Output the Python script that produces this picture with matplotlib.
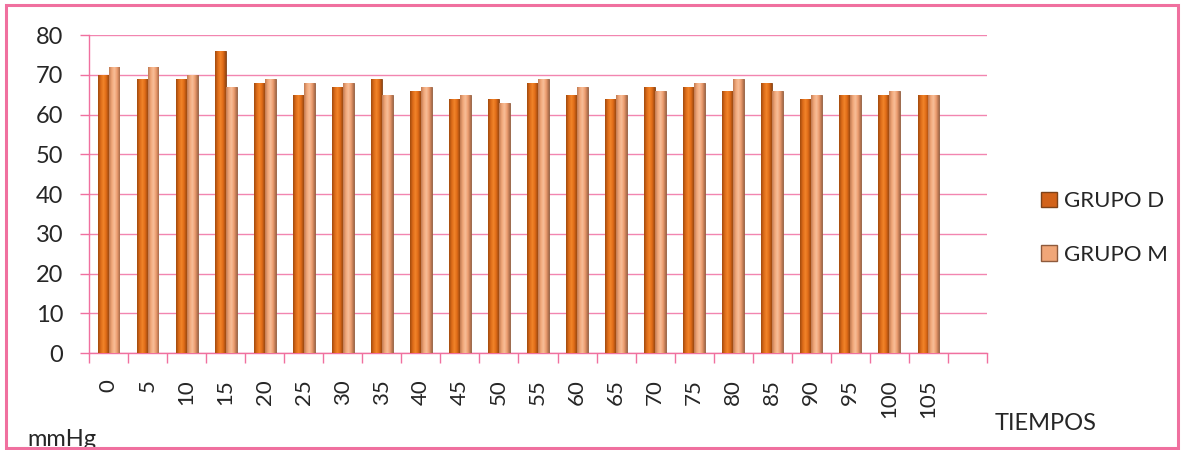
import numpy as np
import matplotlib.pyplot as plt
from matplotlib.colors import LinearSegmentedColormap
from matplotlib.patches import Rectangle, Patch

plt.rcParams['font.family'] = ['Lato', 'DejaVu Sans']

# tiempos (min) y valores por grupo
tiempos = ['0', '5', '10', '15', '20', '25', '30', '35', '40', '45', '50',
           '55', '60', '65', '70', '75', '80', '85', '90', '95', '100', '105']
grupo_d = [70, 69, 69, 76, 68, 65, 67, 69, 66, 64, 64,
           68, 65, 64, 67, 67, 66, 68, 64, 65, 65, 65]
grupo_m = [72, 72, 70, 67, 69, 68, 68, 65, 67, 65, 63,
           69, 67, 65, 66, 68, 69, 66, 65, 65, 66, 65]

rosa = '#F0709F'
rosa_grid = '#F285B0'
texto = '#262626'

# degradados para dar aspecto de cilindro
cmap_d = LinearSegmentedColormap.from_list(
    'd', ['#A04A0E', '#DC6A18', '#F2852A', '#DE6A17', '#9A4810'])
cmap_m = LinearSegmentedColormap.from_list(
    'm', ['#C07A52', '#F0A678', '#F8BE98', '#EC9C6E', '#A86A48'])

fig = plt.figure(figsize=(11.81, 4.5), dpi=100)
ax = fig.add_axes([89 / 1181, 1 - 353 / 450, (987 - 89) / 1181, (353 - 35) / 450])

x = np.arange(len(tiempos))
w = 0.28
bars_d = ax.bar(x - w / 2, grupo_d, w, color='#DC6A18', edgecolor='#7E4218',
                linewidth=0.6, zorder=3)
bars_m = ax.bar(x + w / 2, grupo_m, w, color='#F0A678', edgecolor='#8E5A3C',
                linewidth=0.6, zorder=3)

grad = np.linspace(0, 1, 64).reshape(1, -1)
for bars, cmap in ((bars_d, cmap_d), (bars_m, cmap_m)):
    for p in bars:
        x0, h = p.get_x(), p.get_height()
        im = ax.imshow(grad, extent=[x0, x0 + p.get_width(), 0, h], aspect='auto',
                       cmap=cmap, zorder=4, interpolation='bilinear')
        im.set_clip_path(p)

ax.set_xlim(-0.5, len(tiempos) + 0.5)
ax.set_ylim(0, 80)

# ejes y rejilla
ax.set_yticks(range(0, 81, 10))
ax.grid(axis='y', color=rosa_grid, linewidth=1, zorder=0)
ax.set_axisbelow(True)
for s in ['top', 'right']:
    ax.spines[s].set_visible(False)
for s in ['left', 'bottom']:
    ax.spines[s].set_color(rosa)
    ax.spines[s].set_linewidth(1)

ax.set_xticks(x)
ax.set_xticklabels(tiempos, rotation=90, va='top', ha='center')
ax.set_xticks(np.arange(-0.5, len(tiempos) + 1, 1), minor=True)
ax.tick_params(axis='x', which='major', length=0, pad=19, labelsize=16, labelcolor=texto)
ax.tick_params(axis='x', which='minor', length=7, color=rosa, width=1)
ax.tick_params(axis='y', length=6.5, color=rosa, width=1, pad=12, labelsize=17,
               labelcolor=texto)

handles = [Patch(facecolor='#D2621A', edgecolor='#7E4218', label='GRUPO D'),
           Patch(facecolor='#F0A678', edgecolor='#8E5A3C', label='GRUPO M')]
fig.legend(handles=handles, loc='center left', bbox_to_anchor=(1021 / 1181, 1 - 228 / 450),
           frameon=False, fontsize=16, handlelength=0.7, handleheight=0.7,
           handletextpad=0.35, labelspacing=1.5, labelcolor=texto)

fig.text(995 / 1181, 1 - 424 / 450, 'TIEMPOS', fontsize=17, va='center', ha='left',
         color=texto)
fig.text(27 / 1181, 1 - 446 / 450, 'mmHg', fontsize=17, va='baseline', ha='left',
         color=texto)

# marco del gráfico
fig.add_artist(Rectangle((6 / 1181, 2 / 450), (1178 - 6) / 1181, (445 - 2) / 450,
                         transform=fig.transFigure, fill=False, edgecolor=rosa,
                         linewidth=2.2, zorder=10))

fig.savefig('out.png', dpi=100)
